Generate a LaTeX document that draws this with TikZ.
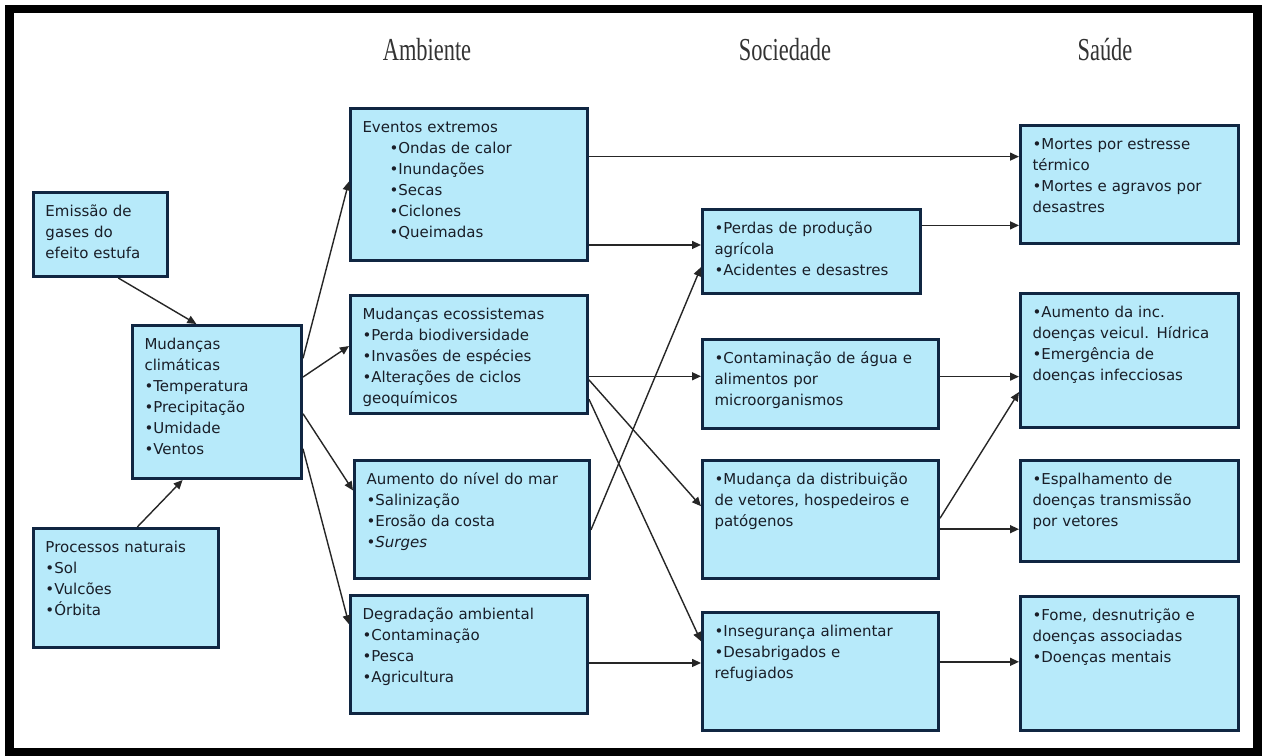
\documentclass[tikz,border=0pt]{standalone}
\usepackage{fontspec}
\usepackage{tikz}
\usetikzlibrary{arrows.meta,calc}
\newfontfamily\boxfont{DejaVu Sans}
\newfontfamily\headfont[FakeStretch=0.7]{Liberation Serif}
\definecolor{cellfill}{RGB}{183,234,250}
\definecolor{cellline}{RGB}{16,38,66}
\definecolor{celltext}{RGB}{25,30,40}

\begin{document}
\begin{tikzpicture}[
  x=0.5pt, y=-0.5pt,
  cell/.style={draw=cellline, fill=cellfill, line width=1.5pt, anchor=north west,
               align=left, inner xsep=6pt, inner ysep=4pt, text height=8pt,
               text=celltext, font=\boxfont\fontsize{7.5}{10.5}\selectfont},
  size/.style 2 args={text width=#1, text depth=#2},
  head/.style={anchor=base, font=\headfont\fontsize{16}{19}\selectfont, text=black!80},
  arr/.style={-{Triangle[length=4.5pt,width=4pt]}, line width=0.7pt, black!85}
]
\useasboundingbox (0,0) rectangle (1266,756);
\fill[white] (0,0) rectangle (1266,756);
\draw[line width=4.3pt] (9.5,9) rectangle (1257.5,752);

% column titles
\node[head] (amb) at (427,60)  {Ambiente};
\node[head] (soc) at (785,60)  {Sociedade};
\node[head] (sau) at (1105,60) {Saúde};

% causes
\node[cell, size={55pt}{26pt}]     (emis)  at (32,191)  {Emissão de\\gases do\\efeito estufa};
\node[cell, size={72.5pt}{60.5pt}] (clima) at (131,324) {Mudanças\\climáticas\\•Temperatura\\•Precipitação\\•Umidade\\•Ventos};
\node[cell, size={80.5pt}{43.5pt}] (proc)  at (32,527)  {Processos naturais\\•Sol\\•Vulcões\\•Órbita};

% ambiente
\node[cell, size={106.5pt}{60pt}] (event) at (349,107) {Eventos extremos\\
  \hspace*{13.5pt}•Ondas de calor\\\hspace*{13.5pt}•Inundações\\\hspace*{13.5pt}•Secas\\
  \hspace*{13.5pt}•Ciclones\\\hspace*{13.5pt}•Queimadas};
\node[cell, size={106.5pt}{43pt}] (ecos) at (349,294) {Mudanças ecossistemas\\•Perda biodiversidade\\•Invasões de espécies\\•Alterações de ciclos\\geoquímicos};
\node[cell, size={105.5pt}{43pt}] (mar)  at (353,459) {Aumento do nível do mar\\•Salinização\\•Erosão da costa\\•\textit{Surges}};
\node[cell, size={106.5pt}{43pt}] (degr) at (349,594) {Degradação ambiental\\•Contaminação\\•Pesca\\•Agricultura};

% sociedade
\node[cell, size={97pt}{26pt}]    (perd)  at (701,208) {•Perdas de produção\\agrícola\\•Acidentes e desastres};
\node[cell, size={106pt}{28.5pt}] (cont)  at (701,338) {•Contaminação de água e\\alimentos por\\microorganismos};
\node[cell, size={106pt}{43pt}]   (dist)  at (701,459) {•Mudança da distribuição\\de vetores, hospedeiros e\\patógenos};
\node[cell, size={106pt}{43pt}]   (inseg) at (701,611) {•Insegurança alimentar\\•Desabrigados e\\refugiados};

% saude
\node[cell, size={97pt}{43pt}]   (mort) at (1019,124) {•Mortes por estresse\\térmico\\•Mortes e agravos por\\desastres};
\node[cell, size={97pt}{51pt}]   (hidr) at (1019,292) {•Aumento da inc.\\doenças veicul. Hídrica\\•Emergência de\\doenças infecciosas};
\node[cell, size={97pt}{34.5pt}] (vet)  at (1019,459) {•Espalhamento de\\doenças transmissão\\por vetores};
\node[cell, size={97pt}{51pt}]   (fome) at (1019,595) {•Fome, desnutrição e\\doenças associadas\\•Doenças mentais};

% into climate
\draw[arr] ($(emis.south west)!0.63!(emis.south east)$) -- ($(clima.north west)!0.38!(clima.north east)$);
\draw[arr] ($(proc.north west)!0.56!(proc.north east)$) -- ($(clima.south west)!0.30!(clima.south east)$);

% climate to ambiente
\draw[arr] ($(clima.north east)!0.22!(clima.south east)$) -- ($(event.north west)!0.48!(event.south west)$);
\draw[arr] ($(clima.north east)!0.34!(clima.south east)$) -- ($(ecos.north west)!0.43!(ecos.south west)$);
\draw[arr] ($(clima.north east)!0.575!(clima.south east)$) -- ($(mar.north west)!0.26!(mar.south west)$);
\draw[arr] ($(clima.north east)!0.80!(clima.south east)$) -- ($(degr.north west)!0.25!(degr.south west)$);

% ambiente to sociedade / saude
\coordinate (e1) at ($(event.north east)!0.32!(event.south east)$);
\coordinate (e2) at ($(event.north east)!0.89!(event.south east)$);
\coordinate (c1) at ($(ecos.north east)!0.68!(ecos.south east)$);
\coordinate (d1) at ($(degr.north east)!0.57!(degr.south east)$);
\draw[arr] (e1) -- (e1 -| mort.west);
\draw[arr] (e2) -- (e2 -| perd.west);
\draw[arr] (c1) -- (c1 -| cont.west);
\draw[arr] (d1) -- (d1 -| inseg.west);
\draw[arr] ($(mar.north east)!0.585!(mar.south east)$) -- ($(perd.north west)!0.68!(perd.south west)$);
\draw[arr] ($(ecos.north east)!0.71!(ecos.south east)$) -- ($(dist.north west)!0.39!(dist.south west)$);
\draw[arr] ($(ecos.north east)!0.87!(ecos.south east)$) -- ($(inseg.north west)!0.25!(inseg.south west)$);

% sociedade to saude
\coordinate (p1) at ($(perd.north east)!0.20!(perd.south east)$);
\coordinate (k1) at ($(cont.north east)!0.42!(cont.south east)$);
\coordinate (v1) at ($(dist.north east)!0.58!(dist.south east)$);
\coordinate (i1) at ($(inseg.north east)!0.42!(inseg.south east)$);
\draw[arr] (p1) -- (p1 -| mort.west);
\draw[arr] (k1) -- (k1 -| hidr.west);
\draw[arr] (v1) -- (v1 -| vet.west);
\draw[arr] (i1) -- (i1 -| fome.west);
\draw[arr] ($(dist.north east)!0.49!(dist.south east)$) -- ($(hidr.north west)!0.73!(hidr.south west)$);
\end{tikzpicture}
\end{document}
